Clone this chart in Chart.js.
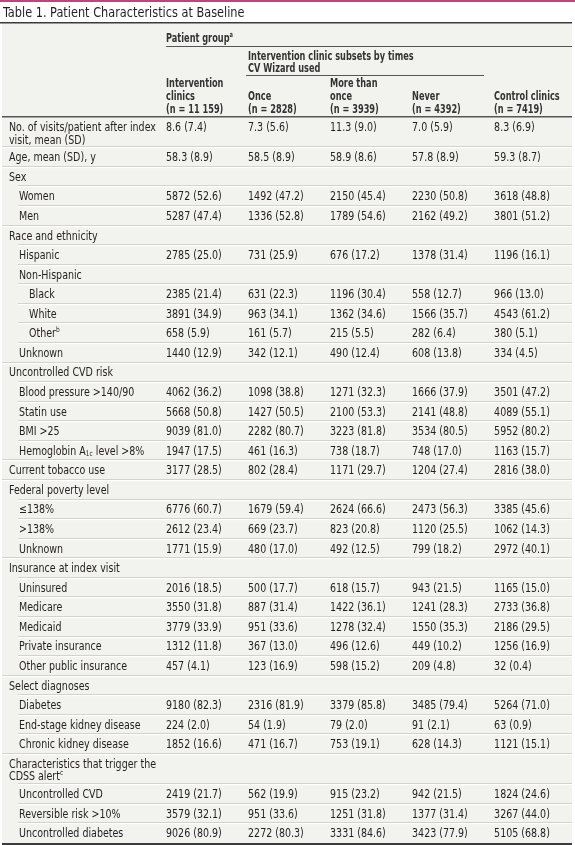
<!DOCTYPE html>
<html>
<head>
<meta charset="utf-8">
<script src="https://cdn.jsdelivr.net/npm/chart.js@4.4.1/dist/chart.umd.min.js"></script>
<style>
    html, body { margin: 0; padding: 0; background: #ffffff; }
    #wrap { width: 575px; height: 845px; position: relative; }
</style>
</head>
<body>
<div id="wrap"><canvas id="baselineTable"></canvas></div>
<script>

const titleText = 'Table 1. Patient Characteristics at Baseline';

const groupHeading = 'Patient group^{a}';

const subsetHeading = ['Intervention clinic subsets by times', 'CV Wizard used'];

const columnHeads = [
    ['Intervention', 'clinics'],
    ['Once'],
    ['More than', 'once'],
    ['Never'],
    ['Control clinics']
];

const columnN = ['11 159', '2828', '3939', '4392', '7419'];

const rowLabels = [
    ['No. of visits/patient after index', 'visit, mean (SD)'],
    'Age, mean (SD), y',
    'Sex', 'Women', 'Men',
    'Race and ethnicity', 'Hispanic', 'Non-Hispanic', 'Black', 'White', 'Other^{b}', 'Unknown',
    'Uncontrolled CVD risk', 'Blood pressure >140/90', 'Statin use', 'BMI >25', 'Hemoglobin A_{1c} level >8%',
    'Current tobacco use',
    'Federal poverty level', '≤138%', '>138%', 'Unknown',
    'Insurance at index visit', 'Uninsured', 'Medicare', 'Medicaid', 'Private insurance', 'Other public insurance',
    'Select diagnoses', 'Diabetes', 'End-stage kidney disease', 'Chronic kidney disease',
    ['Characteristics that trigger the', 'CDSS alert^{c}'],
    'Uncontrolled CVD', 'Reversible risk >10%', 'Uncontrolled diabetes'
];

const rowLevel = [
    0, 0,
    0, 1, 1,
    0, 1, 1, 2, 2, 2, 1,
    0, 1, 1, 1, 1,
    0,
    0, 1, 1, 1,
    0, 1, 1, 1, 1, 1,
    0, 1, 1, 1,
    0, 1, 1, 1
];

const intervention = [
    '8.6 (7.4)', '58.3 (8.9)',
    null, '5872 (52.6)', '5287 (47.4)',
    null, '2785 (25.0)', null, '2385 (21.4)', '3891 (34.9)', '658 (5.9)', '1440 (12.9)',
    null, '4062 (36.2)', '5668 (50.8)', '9039 (81.0)', '1947 (17.5)',
    '3177 (28.5)',
    null, '6776 (60.7)', '2612 (23.4)', '1771 (15.9)',
    null, '2016 (18.5)', '3550 (31.8)', '3779 (33.9)', '1312 (11.8)', '457 (4.1)',
    null, '9180 (82.3)', '224 (2.0)', '1852 (16.6)',
    null, '2419 (21.7)', '3579 (32.1)', '9026 (80.9)'
];

const once = [
    '7.3 (5.6)', '58.5 (8.9)',
    null, '1492 (47.2)', '1336 (52.8)',
    null, '731 (25.9)', null, '631 (22.3)', '963 (34.1)', '161 (5.7)', '342 (12.1)',
    null, '1098 (38.8)', '1427 (50.5)', '2282 (80.7)', '461 (16.3)',
    '802 (28.4)',
    null, '1679 (59.4)', '669 (23.7)', '480 (17.0)',
    null, '500 (17.7)', '887 (31.4)', '951 (33.6)', '367 (13.0)', '123 (16.9)',
    null, '2316 (81.9)', '54 (1.9)', '471 (16.7)',
    null, '562 (19.9)', '951 (33.6)', '2272 (80.3)'
];

const moreThanOnce = [
    '11.3 (9.0)', '58.9 (8.6)',
    null, '2150 (45.4)', '1789 (54.6)',
    null, '676 (17.2)', null, '1196 (30.4)', '1362 (34.6)', '215 (5.5)', '490 (12.4)',
    null, '1271 (32.3)', '2100 (53.3)', '3223 (81.8)', '738 (18.7)',
    '1171 (29.7)',
    null, '2624 (66.6)', '823 (20.8)', '492 (12.5)',
    null, '618 (15.7)', '1422 (36.1)', '1278 (32.4)', '496 (12.6)', '598 (15.2)',
    null, '3379 (85.8)', '79 (2.0)', '753 (19.1)',
    null, '915 (23.2)', '1251 (31.8)', '3331 (84.6)'
];

const never = [
    '7.0 (5.9)', '57.8 (8.9)',
    null, '2230 (50.8)', '2162 (49.2)',
    null, '1378 (31.4)', null, '558 (12.7)', '1566 (35.7)', '282 (6.4)', '608 (13.8)',
    null, '1666 (37.9)', '2141 (48.8)', '3534 (80.5)', '748 (17.0)',
    '1204 (27.4)',
    null, '2473 (56.3)', '1120 (25.5)', '799 (18.2)',
    null, '943 (21.5)', '1241 (28.3)', '1550 (35.3)', '449 (10.2)', '209 (4.8)',
    null, '3485 (79.4)', '91 (2.1)', '628 (14.3)',
    null, '942 (21.5)', '1377 (31.4)', '3423 (77.9)'
];

const control = [
    '8.3 (6.9)', '59.3 (8.7)',
    null, '3618 (48.8)', '3801 (51.2)',
    null, '1196 (16.1)', null, '966 (13.0)', '4543 (61.2)', '380 (5.1)', '334 (4.5)',
    null, '3501 (47.2)', '4089 (55.1)', '5952 (80.2)', '1163 (15.7)',
    '2816 (38.0)',
    null, '3385 (45.6)', '1062 (14.3)', '2972 (40.1)',
    null, '1165 (15.0)', '2733 (36.8)', '2186 (29.5)', '1256 (16.9)', '32 (0.4)',
    null, '5264 (71.0)', '63 (0.9)', '1121 (15.1)',
    null, '1824 (24.6)', '3267 (44.0)', '5105 (68.8)'
];

const columnValues = [intervention, once, moreThanOnce, never, control];

const FONT = "'DejaVu Sans Condensed', 'DejaVu Sans', sans-serif";
const INK = '#231f20';
const LINE_GAP = 12.6;

// text styles: the reference face is narrower, so squeeze horizontally
const bodyText = { size: 12, weight: 400, sx: 0.88 };
const headText = { size: 12, weight: 700, sx: 0.76 };
const titleStyle = { size: 14, weight: 400, sx: 0.9 };

// rows with wrapped labels are taller
const rowUnits =
    rowLabels.map(label =>
        Array.isArray(label) ? 1 + 0.55 * (label.length - 1) : 1
    );

const rowTops = [];
rowUnits.reduce((acc, u, i) => {
    rowTops[i] = acc;
    return acc + u;
}, 0);

const totalUnits =
    rowUnits.reduce((a, b) => a + b, 0);

function drawRich(ctx, text, x, y, style) {
    const parts = text.split(/(\^\{[^}]*\}|_\{[^}]*\})/);
    let cx = x;
    parts.forEach(part => {
        if (!part) {
            return;
        }
        let s = part;
        let sz = style.size;
        let dy = 0;
        if (part.startsWith('^{')) {
            s = part.slice(2, -1);
            sz = style.size * 0.62;
            dy = -style.size * 0.32;
        } else if (part.startsWith('_{')) {
            s = part.slice(2, -1);
            sz = style.size * 0.62;
            dy = style.size * 0.22;
        }
        ctx.font = `${style.weight} ${sz}px ${FONT}`;
        ctx.save();
        ctx.translate(cx, y + dy);
        ctx.scale(style.sx, 1);
        ctx.fillText(s, 0, 0);
        ctx.restore();
        cx += ctx.measureText(s).width * style.sx;
    });
}

const tablePlugin = {

    id: 'tablePlugin',

    beforeDatasetsDraw(chart) {

        const { ctx, chartArea, scales: { y } } = chart;

        ctx.save();

        ctx.fillStyle = '#f2f2ee';
        ctx.fillRect(chartArea.left, 23, chartArea.right - chartArea.left, chartArea.bottom - 23);

        // row separators
        for (let i = 1; i < rowLabels.length; i++) {
            const py = Math.round(y.getPixelForValue(rowTops[i]));
            const startX = rowLevel[i] === 0 ? chartArea.left : chartArea.left + 16;
            ctx.fillStyle = '#d3d3ce';
            ctx.fillRect(startX, py - 1, chartArea.right - startX, 1);
            ctx.fillStyle = '#ffffff';
            ctx.fillRect(startX, py, chartArea.right - startX, 1.2);
        }

        ctx.restore();

    },

    afterDatasetsDraw(chart) {

        const { ctx, chartArea, scales: { x, y } } = chart;

        const px = c => x.getPixelForValue(c);

        ctx.save();
        ctx.textBaseline = 'middle';
        ctx.textAlign = 'left';

        // title block
        ctx.fillStyle = '#c4417e';
        ctx.fillRect(0, 0, chart.width, 2);

        ctx.fillStyle = INK;
        drawRich(ctx, titleText, 3, 13, titleStyle);

        ctx.fillStyle = '#3b3b3b';
        ctx.fillRect(0, 22, chartArea.right, 1.5);

        // column headers
        ctx.fillStyle = '#333333';
        drawRich(ctx, groupHeading, px(0), 39, headText);

        ctx.fillStyle = '#555555';
        ctx.fillRect(px(0), 46, chartArea.right - px(0), 1);

        ctx.fillStyle = '#333333';
        subsetHeading.forEach((line, k) => {
            drawRich(ctx, line, px(1), 56.5 + k * LINE_GAP, headText);
        });

        ctx.fillStyle = '#555555';
        ctx.fillRect(px(1) - 2, 75, px(4) - 10 - (px(1) - 2), 1);

        ctx.fillStyle = '#333333';
        columnHeads.forEach((head, c) => {
            const lines = [...head, `(n = ${columnN[c]})`];
            lines.forEach((line, k) => {
                const ly = 109.5 - (lines.length - 1 - k) * LINE_GAP;
                drawRich(ctx, line, px(c), ly, headText);
            });
        });

        ctx.fillStyle = '#555555';
        ctx.fillRect(chartArea.left, chartArea.top - 1, chartArea.right - chartArea.left, 1.5);

        // row labels
        ctx.fillStyle = INK;
        rowLabels.forEach((label, r) => {
            const lines = Array.isArray(label) ? label : [label];
            const first = y.getPixelForValue(rowTops[r] + 0.5) + 1;
            const lx = px(-2) + 7 + rowLevel[r] * 10;
            lines.forEach((line, k) => {
                drawRich(ctx, line, lx, first + k * LINE_GAP, bodyText);
            });
        });

        // cell values, placed at each point from the scales
        chart.data.datasets.forEach((dataset, d) => {
            const meta = chart.getDatasetMeta(d);
            meta.data.forEach((point, j) => {
                drawRich(ctx, dataset.data[j].text, point.x, point.y + 1, bodyText);
            });
        });

        // bottom rule
        ctx.fillStyle = '#3b3b3b';
        ctx.fillRect(chartArea.left, chartArea.bottom, chartArea.right - chartArea.left, 2);

        ctx.restore();

    }

};

const canvas =
    document.getElementById('baselineTable');

new Chart(canvas, {

    type: 'scatter',

    data: {

        datasets: columnValues.map((values, c) => ({
            label: columnHeads[c].join(' '),
            data: values
                .map((v, r) => v === null ? null : { x: c, y: rowTops[r] + 0.5, text: v })
                .filter(Boolean),
            pointRadius: 0,
            pointHoverRadius: 0
        }))

    },

    options: {

        responsive: true,

        maintainAspectRatio: false,

        animation: false,

        events: [],

        layout: {
            padding: { left: 2, right: 3, top: 117, bottom: 2 }
        },

        plugins: {
            legend: { display: false },
            tooltip: { enabled: false },
            title: { display: false }
        },

        scales: {

            x: {
                type: 'linear',
                min: -2,
                max: 4.95,
                display: false
            },

            y: {
                type: 'linear',
                min: 0,
                max: totalUnits,
                reverse: true,
                display: false
            }

        }

    },

    plugins: [tablePlugin]

});

</script>
</body>
</html>
